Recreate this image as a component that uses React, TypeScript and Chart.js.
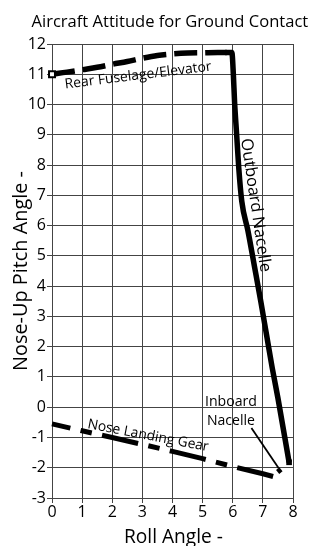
import React, { useEffect, useRef } from "react";
import { Chart, registerables } from "chart.js";

Chart.register(...registerables);

const FONT = '"Open Sans", sans-serif';

const TITLE = "Aircraft Attitude for Ground Contact";
const X_TITLE = "Roll Angle -";
const Y_TITLE = "Nose-Up Pitch Angle -";

const X_TICKS = [0, 1, 2, 3, 4, 5, 6, 7, 8];
const Y_TICKS = [-3, -2, -1, 0, 1, 2, 3, 4, 5, 6, 7, 8, 9, 10, 11, 12];

const SERIES_NAMES = ["Rear Fuselage/Elevator", "Outboard Nacelle", "Nose Landing Gear", "Inboard Nacelle"];

const rearX = [0, 0.5, 1, 1.5, 2, 2.5, 3, 3.5, 4, 4.5, 5, 5.5, 5.8];
const rearY = [11.0, 11.07, 11.15, 11.23, 11.33, 11.42, 11.53, 11.62, 11.67, 11.7, 11.71, 11.72, 11.72];

const outX = [5.75, 5.97, 6.02, 6.06, 6.13, 6.2, 6.3, 6.5, 6.73, 6.93, 7.12, 7.31, 7.5, 7.87];
const outY = [11.72, 11.72, 11.0, 10.1, 9.0, 7.9, 6.8, 5.85, 4.6, 3.5, 2.4, 1.3, 0.3, -1.82];

const noseX = [0, 1, 2, 3, 4, 5, 6, 7, 7.34];
const noseY = [-0.55, -0.78, -1.0, -1.23, -1.46, -1.7, -1.96, -2.2, -2.29];

const inbX = [7.49, 7.6];
const inbY = [-2.14, -2.05];

const toPts = (xs: number[], ys: number[]) => xs.map((x, i) => ({ x, y: ys[i] }));

function drawFitted(
  ctx: CanvasRenderingContext2D,
  text: string,
  x: number,
  y: number,
  angleDeg: number,
  width: number,
  align: CanvasTextAlign = "left"
) {
  ctx.save();
  ctx.font = `100px ${FONT}`;
  const w = ctx.measureText(text).width;
  const size = (100 * width) / w;
  ctx.font = `${size}px ${FONT}`;
  ctx.translate(x, y);
  ctx.rotate((angleDeg * Math.PI) / 180);
  ctx.textAlign = align;
  ctx.textBaseline = "alphabetic";
  ctx.fillStyle = "#000";
  ctx.fillText(text, 0, 0);
  ctx.restore();
}

const annotations = {
  id: "annotations",
  afterDatasetsDraw(chart: any) {
    const ctx = chart.ctx as CanvasRenderingContext2D;
    const xs = chart.scales.x;
    const ys = chart.scales.y;
    const px = (v: number) => xs.getPixelForValue(v);
    const py = (v: number) => ys.getPixelForValue(v);

    // leader line for Inboard Nacelle
    ctx.save();
    ctx.strokeStyle = "#000";
    ctx.lineWidth = 1.8;
    ctx.beginPath();
    ctx.moveTo(px(6.62), py(-0.69));
    ctx.lineTo(px(7.52), py(-2.01));
    ctx.stroke();
    ctx.restore();

    drawFitted(ctx, SERIES_NAMES[0], px(0.44), py(10.53), -7, 148);
    drawFitted(ctx, SERIES_NAMES[1], px(6.27), py(8.85), 81.5, 135);
    drawFitted(ctx, SERIES_NAMES[2], px(1.16), py(-0.69), 10.8, 123);
    const [inb1, inb2] = SERIES_NAMES[3].split(" ");
    drawFitted(ctx, inb1, px(5.94), py(0.05), 0, 52, "center");
    drawFitted(ctx, inb2, px(5.94), py(-0.58), 0, 48, "center");
  },
  afterDraw(chart: any) {
    const ctx = chart.ctx as CanvasRenderingContext2D;
    const area = chart.chartArea;
    drawFitted(ctx, TITLE, 31.5, 26.7, 0, 277);
    drawFitted(ctx, Y_TITLE, 27.3, (area.top + area.bottom) / 2, -90, 200, "center");
    drawFitted(ctx, X_TITLE, (area.left + area.right) / 2 + 1, 542.5, 0, 99, "center");
  },
};

export default function App() {
  const ref = useRef<HTMLCanvasElement | null>(null);

  useEffect(() => {
    if (!ref.current) return;
    const gridColor = "#444";
    const chart = new Chart(ref.current, {
      type: "line",
      data: {
        datasets: [
          {
            label: SERIES_NAMES[0],
            data: toPts(rearX, rearY),
            borderColor: "#000",
            borderWidth: 5.5,
            borderDash: [23, 8],
            borderCapStyle: "butt",
            cubicInterpolationMode: "monotone",
            pointRadius: rearX.map((_, i) => (i === 0 ? 4.2 : 0)),
            pointStyle: "rect",
            pointBackgroundColor: "#fff",
            pointBorderColor: "#000",
            pointBorderWidth: 2,
            clip: 10,
          } as any,
          {
            label: SERIES_NAMES[1],
            data: toPts(outX, outY),
            borderColor: "#000",
            borderWidth: 5.5,
            borderJoinStyle: "miter",
            cubicInterpolationMode: "monotone",
            pointRadius: outX.map((_, i) => (i === outX.length - 1 ? 4 : 0)),
            pointStyle: "rect",
            pointBackgroundColor: "#000",
            pointBorderColor: "#000",
            pointBorderWidth: 0,
            clip: 10,
          } as any,
          {
            label: SERIES_NAMES[2],
            data: toPts(noseX, noseY),
            borderColor: "#000",
            borderWidth: 5,
            borderDash: [37, 10.5, 11.5, 10.5],
            borderDashOffset: 18.2,
            borderCapStyle: "butt",
            tension: 0,
            pointRadius: 0,
            clip: 10,
          } as any,
          {
            label: SERIES_NAMES[3],
            data: toPts(inbX, inbY),
            borderColor: "#000",
            borderWidth: 5,
            tension: 0,
            pointRadius: 0,
            clip: 10,
          } as any,
        ],
      },
      options: {
        animation: false,
        responsive: false,
        devicePixelRatio: 1,
        layout: { padding: { top: 44, right: 19, left: 0, bottom: 0 } },
        plugins: {
          legend: { display: false },
          tooltip: { enabled: false },
          title: { display: false },
        },
        scales: {
          x: {
            type: "linear",
            min: 0,
            max: 8,
            afterBuildTicks: (s: any) => {
              s.ticks = X_TICKS.map((v) => ({ value: v }));
            },
            afterFit: (s: any) => {
              s.height = 48;
            },
            ticks: {
              color: "#000",
              font: { family: FONT, size: 16 },
              padding: 0,
              maxRotation: 0,
              autoSkip: false,
            },
            grid: { color: gridColor, lineWidth: 1, tickLength: 5, tickColor: gridColor },
            border: { color: gridColor, width: 1 },
          },
          y: {
            type: "linear",
            min: -3,
            max: 12,
            afterBuildTicks: (s: any) => {
              s.ticks = Y_TICKS.map((v) => ({ value: v }));
            },
            afterFit: (s: any) => {
              s.width = 52;
            },
            ticks: {
              color: "#000",
              font: { family: FONT, size: 16 },
              padding: 1,
              autoSkip: false,
            },
            grid: { color: gridColor, lineWidth: 1, tickLength: 5, tickColor: gridColor },
            border: { color: gridColor, width: 1 },
          },
        },
      },
      plugins: [annotations],
    });
    return () => chart.destroy();
  }, []);

  return (
    <div style={{ position: "fixed", left: 0, top: 0, width: 312, height: 546, background: "#fff" }}>
      <canvas ref={ref} width={312} height={546} style={{ display: "block", width: 312, height: 546 }} />
    </div>
  );
}
